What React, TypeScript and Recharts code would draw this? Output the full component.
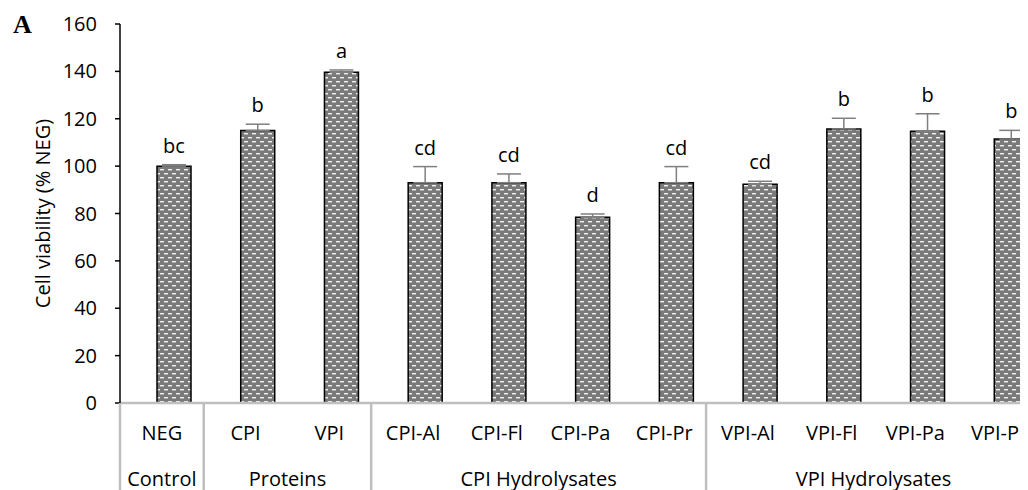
import React from 'react';
import { BarChart, Bar, XAxis, YAxis, ErrorBar, LabelList } from 'recharts';

const categories = ['NEG', 'CPI', 'VPI', 'CPI-Al', 'CPI-Fl', 'CPI-Pa', 'CPI-Pr', 'VPI-Al', 'VPI-Fl', 'VPI-Pa', 'VPI-Pr'];
const groups = ['Control', 'Proteins', 'Proteins', 'CPI Hydrolysates', 'CPI Hydrolysates', 'CPI Hydrolysates', 'CPI Hydrolysates',
    'VPI Hydrolysates', 'VPI Hydrolysates', 'VPI Hydrolysates', 'VPI Hydrolysates'];
const viability = [100, 115, 139.6, 93, 93, 78.4, 93, 92.3, 115.7, 114.7, 111.4];
const sd = [0.6, 2.7, 1, 6.8, 3.7, 1.4, 6.8, 1.3, 4.5, 7.4, 3.7];
const letters = ['bc', 'b', 'a', 'cd', 'cd', 'd', 'cd', 'cd', 'b', 'b', 'b'];
const yTicks = [0, 20, 40, 60, 80, 100, 120, 140, 160];

const FONT = '"Open Sans", sans-serif';

const data = categories.map((name, i) => ({
    name,
    group: groups[i],
    value: viability[i],
    err: [0, sd[i]],
}));

const CategoryTick = (props: any) => {
    const { x, y, payload, index } = props;
    const half = payload.offset || 41.85;
    const first = index === 0 || groups[index - 1] !== groups[index];
    let count = 0;
    for (let j = index; j < groups.length && groups[j] === groups[index]; j++) count++;
    const left = x - half;
    return (
        <g>
            <text x={x} y={y + 37} textAnchor="middle" fontSize={20} fontFamily={FONT} fill="#000">{payload.value}</text>
            {first && (
                <g>
                    <line x1={left} y1={y} x2={left} y2={y + 95} stroke="#bfbfbf" strokeWidth={2.5} />
                    <text x={left + half * count} y={y + 83} textAnchor="middle" fontSize={20} fontFamily={FONT} fill="#000">
                        {groups[index]}
                    </text>
                </g>
            )}
        </g>
    );
};

const LetterLabel = (props: any) => {
    const { x, y, width, height, index } = props;
    const perUnit = height / viability[index];
    const top = y - sd[index] * perUnit;
    return (
        <text x={x + width / 2} y={top - 12} textAnchor="middle" fontSize={20} fontFamily={FONT} fill="#000">
            {letters[index]}
        </text>
    );
};

const YLabel = (props: any) => {
    const { viewBox } = props;
    const cx = 34;
    const cy = viewBox.y + viewBox.height / 2;
    return (
        <text x={cx} y={cy} transform={`rotate(-90 ${cx} ${cy})`} textAnchor="middle" dominantBaseline="central"
            fontSize={20} fontFamily={FONT} fill="#000">
            Cell viability (% NEG)
        </text>
    );
};

const App = () => {
    return (
        <div style={{ position: 'relative', width: 1020, height: 482, overflow: 'hidden' }}>
            <span style={{
                position: 'absolute', left: 5, top: 2, fontFamily: '"Liberation Serif", serif',
                fontWeight: 'bold', fontSize: 26, lineHeight: '30px',
            }}>A</span>
            <BarChart width={1045} height={482} data={data} margin={{ top: 16, right: 0, bottom: 0, left: 0 }}>
                <defs>
                    <pattern id="dash" width={8} height={8} patternUnits="userSpaceOnUse">
                        <rect width={8} height={8} fill="#7a7a7a" />
                        <rect x={0} y={1} width={4} height={1.4} fill="#f2f2f2" />
                        <rect x={4} y={5} width={4} height={1.4} fill="#f2f2f2" />
                    </pattern>
                </defs>
                <XAxis dataKey="name" xAxisId="bars" padding={{ left: 12, right: 0 }} height={0} hide />
                <XAxis dataKey="name" xAxisId="labels" padding={{ left: 0, right: 12 }} interval={0}
                    axisLine={{ stroke: '#bfbfbf', strokeWidth: 2.5 }} tickLine={false} tickSize={0} tickMargin={0}
                    height={87} tick={<CategoryTick />} />
                <YAxis width={112} domain={[0, 160]} ticks={yTicks} interval={0}
                    axisLine={{ stroke: '#000', strokeWidth: 1.5 }} tickLine={{ stroke: '#000', strokeWidth: 1.5 }}
                    tickSize={5} tickMargin={18} tick={{ fontSize: 20, fontFamily: FONT, fill: '#000' }}
                    label={<YLabel />} />
                <Bar dataKey="value" xAxisId="bars" barSize={34} fill="url(#dash)" stroke="#000" strokeWidth={1.5}
                    isAnimationActive={false}>
                    <ErrorBar dataKey="err" direction="y" width={12} stroke="#7f7f7f" strokeWidth={1.5} />
                    <LabelList dataKey="value" content={<LetterLabel />} />
                </Bar>
            </BarChart>
        </div>
    );
};

export default App;
